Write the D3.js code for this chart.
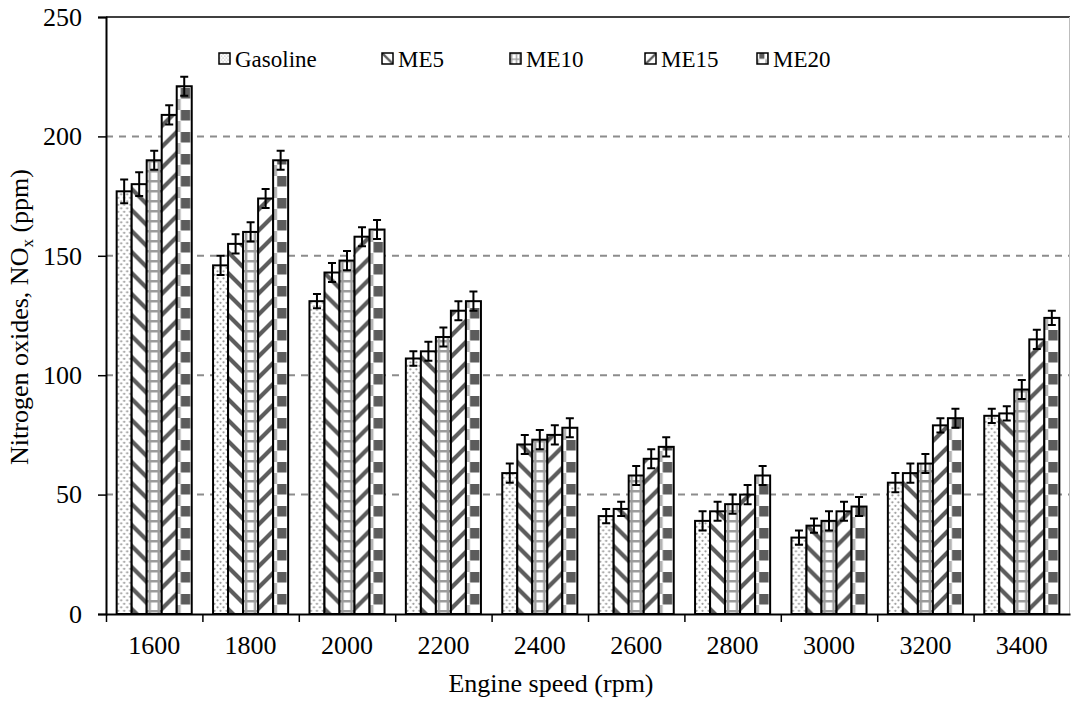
<!DOCTYPE html>
<html>
<head>
<meta charset="utf-8">
<script src="https://cdn.jsdelivr.net/npm/d3@7"></script>
<style>
  html, body { margin: 0; padding: 0; background: #fff; }
  svg { display: block; }
  svg text { font-family: 'Liberation Serif', 'Times New Roman', serif; }
</style>
</head>
<body>
<svg id="chart" width="1072" height="706"></svg>
<script>
// Engine speeds (rpm) on the x axis
const categories = ["1600", "1800", "2000", "2200", "2400", "2600", "2800", "3000", "3200", "3400"];
const seriesNames = ["Gasoline", "ME5", "ME10", "ME15", "ME20"];

// NOx concentration (ppm) per fuel blend
const gasoline = [177, 146, 131, 107, 59, 41, 39, 32, 55, 83];
const me5      = [180, 155, 143, 110, 71, 44, 43, 37, 59, 84];
const me10     = [190, 160, 148, 116, 73, 58, 46, 39, 63, 94];
const me15     = [209, 174, 158, 127, 75, 65, 50, 43, 79, 115];
const me20     = [221, 190, 161, 131, 78, 70, 58, 45, 82, 124];

// Error bar half-widths (ppm)
const gasolineErr = [5, 4, 3, 3, 4, 3, 4, 3, 4, 3];
const me5Err      = [5, 4, 4, 4, 4, 3, 4, 3, 4, 3];
const me10Err     = [4, 4, 4, 4, 4, 4, 4, 4, 4, 4];
const me15Err     = [4, 4, 4, 4, 4, 4, 4, 4, 3, 4];
const me20Err     = [4, 4, 4, 4, 4, 4, 4, 4, 4, 3];

const yTicks = [0, 50, 100, 150, 200, 250];
const gridTicks = [50, 100, 150, 200];

const seriesValues = [gasoline, me5, me10, me15, me20];
const seriesErrors = [gasolineErr, me5Err, me10Err, me15Err, me20Err];

const FONT = "'Liberation Serif', 'Times New Roman', serif";
const plot = { left: 106, right: 1070, top: 17, bottom: 614 };
const svg = d3.select("#chart").attr("font-family", FONT);

const y = d3.scaleLinear().domain([0, 250]).range([plot.bottom, plot.top]);
const x0 = d3.scaleBand().domain(categories).range([plot.left, plot.right]).padding(0);
const x1 = d3.scaleBand().domain(seriesNames).range([0, x0.bandwidth()])
  .paddingInner(0).paddingOuter(0.71);
const bw = x1.bandwidth();

// ---------- fill patterns ----------
const defs = svg.append("defs");
const DARK = "#5c5c5c";
const MID = "#9c9c9c";

function makePattern(id, kind, transform) {
  const p = defs.append("pattern").attr("id", id).attr("patternUnits", "userSpaceOnUse");
  if (transform) p.attr("patternTransform", transform);
  if (kind === 0) {            // fine dots
    p.attr("width", 6).attr("height", 7);
    p.append("rect").attr("width", 6).attr("height", 7).attr("fill", "#fff");
    p.append("circle").attr("cx", 1.5).attr("cy", 1.8).attr("r", 1.1).attr("fill", "#9a9a9a");
    p.append("circle").attr("cx", 4.5).attr("cy", 5.3).attr("r", 1.1).attr("fill", "#9a9a9a");
  } else if (kind === 1) {     // downward diagonal stripes
    p.attr("width", 21).attr("height", 21);
    p.append("rect").attr("width", 21).attr("height", 21).attr("fill", "#fff");
    p.append("path").attr("d", "M-5,-5 L26,26 M-5,16 L5,26 M16,-5 L26,5")
      .attr("stroke", DARK).attr("stroke-width", 4.2);
  } else if (kind === 2) {     // grid
    p.attr("width", bw).attr("height", 10);
    p.append("rect").attr("width", bw).attr("height", 10).attr("fill", "#fff");
    p.append("path")
      .attr("d", `M3,0 V10 M${bw - 3},0 V10 M0,1.2 H${bw}`)
      .attr("stroke", MID).attr("stroke-width", 2.4);
  } else if (kind === 3) {     // upward diagonal stripes
    p.attr("width", 21).attr("height", 21);
    p.append("rect").attr("width", 21).attr("height", 21).attr("fill", "#fff");
    p.append("path").attr("d", "M-5,26 L26,-5 M-5,5 L5,-5 M16,26 L26,16")
      .attr("stroke", DARK).attr("stroke-width", 4.2);
  } else {                     // large checker blocks
    p.attr("width", bw).attr("height", 22);
    p.append("rect").attr("width", bw).attr("height", 22).attr("fill", "#fff");
    p.append("rect").attr("x", 4).attr("y", 0).attr("width", 9.5).attr("height", 10.5).attr("fill", DARK);
    p.append("rect").attr("x", 0).attr("y", 11).attr("width", 4).attr("height", 11).attr("fill", "#b4b4b4");
  }
}
seriesNames.forEach((n, i) => {
  makePattern(`pat-${i}`, i, null);
  makePattern(`lpat-${i}`, i, "scale(0.55)");
});

// ---------- gridlines ----------
svg.append("g").selectAll("line").data(gridTicks).join("line")
  .attr("x1", plot.left).attr("x2", plot.right)
  .attr("y1", d => y(d)).attr("y2", d => y(d))
  .attr("stroke", "#8c8c8c").attr("stroke-width", 2)
  .attr("stroke-dasharray", "7,6");

// frame: top (black) and right (thin grey)
svg.append("line").attr("x1", plot.left).attr("x2", plot.right)
  .attr("y1", plot.top).attr("y2", plot.top)
  .attr("stroke", "#000").attr("stroke-width", 1.5);
svg.append("line").attr("x1", plot.right - 0.5).attr("x2", plot.right - 0.5)
  .attr("y1", plot.top).attr("y2", plot.bottom)
  .attr("stroke", "#bdbdbd").attr("stroke-width", 1);

// ---------- bars ----------
const cells = [];
seriesNames.forEach((name, i) => {
  categories.forEach((cat, j) => {
    cells.push({ name, i, cat, v: seriesValues[i][j], e: seriesErrors[i][j] });
  });
});

const barG = svg.append("g").selectAll("g").data(cells).join("g")
  .attr("transform", d => `translate(${x0(d.cat) + x1(d.name)},0)`);

barG.append("rect")
  .attr("x", 0).attr("width", bw)
  .attr("y", d => y(d.v)).attr("height", d => y(0) - y(d.v))
  .attr("fill", d => `url(#pat-${d.i})`)
  .attr("stroke", "#000").attr("stroke-width", 2);

// error bars
const capHalf = 4;
barG.append("path")
  .attr("d", d => {
    const c = bw / 2, t = y(d.v + d.e), b = y(d.v - d.e);
    return `M${c},${t} V${b} M${c - capHalf},${t} H${c + capHalf} M${c - capHalf},${b} H${c + capHalf}`;
  })
  .attr("fill", "none").attr("stroke", "#000").attr("stroke-width", 2);

// ---------- axes ----------
const yAxis = d3.axisLeft(y).tickValues(yTicks).tickSize(8).tickPadding(16);
const yg = svg.append("g").attr("transform", `translate(${plot.left},0)`).call(yAxis)
  .attr("font-family", FONT);
yg.select(".domain").attr("stroke", "#000").attr("stroke-width", 2);
yg.selectAll(".tick line").attr("stroke", "#000").attr("stroke-width", 1.5);
yg.selectAll(".tick text").attr("font-size", 26).attr("fill", "#000");

// category labels at group centres
const xAxis = d3.axisBottom(x0).tickSize(0).tickPadding(22);
const xg = svg.append("g").attr("transform", `translate(0,${plot.bottom})`).call(xAxis)
  .attr("font-family", FONT);
xg.select(".domain").attr("stroke", "#000").attr("stroke-width", 2);
xg.selectAll(".tick text").attr("font-size", 26).attr("fill", "#000");

// tick marks at group boundaries
const xb = d3.scaleLinear().domain([0, categories.length]).range([plot.left, plot.right]);
const xbg = svg.append("g").attr("transform", `translate(0,${plot.bottom})`)
  .call(d3.axisBottom(xb).tickValues(d3.range(0, categories.length)).tickSize(8).tickFormat(""));
xbg.select(".domain").remove();
xbg.selectAll(".tick line").attr("stroke", "#000").attr("stroke-width", 1.5);

// axis titles
svg.append("text")
  .attr("x", 551).attr("y", 692)
  .attr("text-anchor", "middle").attr("font-size", 26).attr("fill", "#000")
  .attr("font-family", FONT)
  .text("Engine speed (rpm)");

const yt = svg.append("text")
  .attr("transform", "translate(28,317) rotate(-90)")
  .attr("text-anchor", "middle").attr("font-size", 26).attr("fill", "#000")
  .attr("font-family", FONT);
yt.append("tspan").text("Nitrogen oxides, NO");
yt.append("tspan").attr("font-size", 17).attr("dy", 5).text("x");
yt.append("tspan").attr("dy", -5).text(" (ppm)");

// ---------- legend ----------
const legendX = [219, 382, 510, 645, 757];
const lg = svg.append("g").selectAll("g").data(seriesNames).join("g")
  .attr("transform", (d, i) => `translate(${legendX[i]},53)`);
lg.append("rect").attr("width", 11).attr("height", 11)
  .attr("fill", (d, i) => `url(#lpat-${i})`)
  .attr("stroke", "#000").attr("stroke-width", 1.5);
lg.append("text").attr("x", 16).attr("y", 14)
  .attr("font-size", 23).attr("fill", "#000").attr("font-family", FONT)
  .text(d => d);
</script>
</body>
</html>
